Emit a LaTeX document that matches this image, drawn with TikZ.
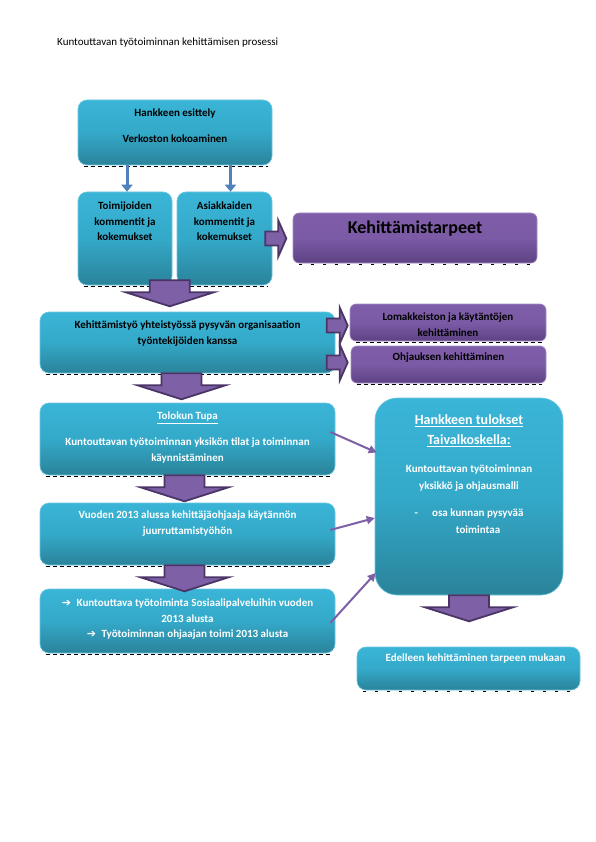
\documentclass[tikz,border=0pt]{standalone}
\usepackage{fontspec}
\setmainfont{Carlito}
\newfontfamily\symfont{DejaVu Sans}
\usetikzlibrary{calc,arrows.meta}

\definecolor{tealtop}{HTML}{3AB5D7}
\definecolor{tealmid}{HTML}{34A9C9}
\definecolor{tealbot}{HTML}{2A839A}
\definecolor{tealedge}{HTML}{6CC6E0}
\definecolor{purptop}{HTML}{7F5DA9}
\definecolor{purpbot}{HTML}{5D4284}
\definecolor{purpedge}{HTML}{4B3567}
\definecolor{purpfill}{HTML}{7E60A6}
\definecolor{bluelink}{HTML}{4F81BD}

\tikzset{
  tealbox/.style={draw=tealedge, line width=0.6pt, rounded corners=9pt,
    top color=tealtop, bottom color=tealbot, middle color=tealmid, inner sep=0pt},
  purpbox/.style={draw=purptop!70!white, line width=0.6pt, rounded corners=6pt,
    top color=purptop, bottom color=purpbot, middle color=purptop!90!purpbot, inner sep=0pt},
  boxtext/.style={font=\fontsize{11}{15.5}\bfseries\selectfont, align=center, inner sep=0pt, anchor=north},
  shadowline/.style={black, line width=1.5pt, dash pattern=on 4pt off 3pt},
  blockarrow/.style={fill=purpfill, draw=purpedge, line width=1.8pt, line join=miter},
  downlink/.style={bluelink, line width=3pt, -{Triangle[length=7pt,width=11pt]}},
  resultlink/.style={purpfill, line width=2pt, -{Triangle[length=8pt,width=8pt]}},
  pics/bigdown/.style={code={
    \draw[blockarrow] (-20,0) -- (20,0) -- (20,12) -- (44,12) -- (0,26) -- (-44,12) -- (-20,12) -- cycle;}},
  pics/bigright/.style={code={
    \draw[blockarrow] (0,-7) -- (13,-7) -- (13,-18) -- (21,0) -- (13,18) -- (13,7) -- (0,7) -- cycle;}}
}

\begin{document}
\begin{tikzpicture}[x=1pt,y=-1pt]
    \useasboundingbox (0,0) rectangle (595,842);
    \fill[white] (0,0) rectangle (595,842);

    \node[anchor=base west, inner sep=0pt, font=\fontsize{11}{13}\selectfont] (title) at (57,46)
        {Kuntouttavan työtoiminnan kehittämisen prosessi};

    % boxes
    \node[tealbox, minimum width=194pt, minimum height=65pt] (A) at (175,132.5) {};
    \node[tealbox, minimum width=94pt, minimum height=93pt] (B1) at (125,238.5) {};
    \node[tealbox, minimum width=95pt, minimum height=93pt] (B2) at (224.5,238.5) {};
    \node[purpbox, minimum width=244pt, minimum height=50pt] (K) at (415,238) {};
    \node[tealbox, minimum width=295pt, minimum height=61pt] (C) at (187.5,342.5) {};
    \node[purpbox, minimum width=196pt, minimum height=37pt] (L1) at (448,322.5) {};
    \node[purpbox, minimum width=195pt, minimum height=37pt] (L2) at (448.5,364.5) {};
    \node[tealbox, minimum width=295pt, minimum height=72pt] (D) at (187.5,439) {};
    \node[tealbox, minimum width=295pt, minimum height=62pt] (E) at (187.5,534) {};
    \node[tealbox, minimum width=295pt, minimum height=64pt] (F) at (187.5,621) {};
    \node[tealbox, rounded corners=22pt, minimum width=188pt, minimum height=197pt] (H) at (469,496.5) {};
    \node[tealbox, minimum width=223pt, minimum height=43pt] (G) at (468.5,668.5) {};

    \foreach \b in {A,B1,B2,C,D,E,F,L1,L2}
        \draw[shadowline] ([xshift=6pt,yshift=-1pt]\b.south west) -- ([xshift=-4pt,yshift=-1pt]\b.south east);
    \foreach \b in {K,G}
        \draw[black, line width=1.2pt, dash pattern=on 3pt off 9pt] ([xshift=6pt,yshift=-1pt]\b.south west) -- ([xshift=-4pt,yshift=-1pt]\b.south east);

    % texts
    \node[boxtext] (At) at ($(A.north)+(0,9)$) {Hankkeen esittely\\[10.5pt] Verkoston kokoaminen};
    \node[boxtext] (B1t) at ($(B1.north)+(0,10)$) {Toimijoiden\\ kommentit ja\\ kokemukset};
    \node[boxtext] (B2t) at ($(B2.north)+(0,10)$) {Asiakkaiden\\ kommentit ja\\ kokemukset};
    \node[boxtext, font=\fontsize{18}{21}\bfseries\selectfont] (Kt) at ($(K.north)+(0,8)$) {Kehittämistarpeet};
    \node[boxtext] (Ct) at ($(C.north)+(0,9)$) {Kehittämistyö yhteistyössä pysyvän organisaation\\ työntekijöiden kanssa};
    \node[boxtext] (L1t) at ($(L1.north)+(0,9)$) {Lomakkeiston ja käytäntöjen\\ kehittäminen};
    \node[boxtext] (L2t) at ($(L2.north)+(0,7)$) {Ohjauksen kehittäminen};
    \node[boxtext, text=white] (Dt) at ($(D.north)+(0,9)$) {\underline{Tolokun Tupa}\\[10.5pt] Kuntouttavan työtoiminnan yksikön tilat ja toiminnan\\ käynnistäminen};
    \node[boxtext, text=white] (Et) at ($(E.north)+(0,8)$) {Vuoden 2013 alussa kehittäjäohjaaja käytännön\\ juurruttamistyöhön};
    \node[boxtext, text=white] (Ft) at ($(F.north)+(0,10)$) {{\symfont ➔}\enspace Kuntouttava työtoiminta Sosiaalipalveluihin vuoden\\ 2013 alusta\\ {\symfont ➔}\enspace Työtoiminnan ohjaajan toimi 2013 alusta};
    \node[boxtext, text=white, font=\fontsize{14}{20}\bfseries\selectfont] (Ht) at ($(H.north)+(0,17)$) {\underline{Hankkeen tulokset}\\ \underline{Taivalkoskella:}};
    \node[boxtext, text=white, font=\fontsize{11}{17}\bfseries\selectfont] (Hb) at ($(H.north)+(0,67)$) {Kuntouttavan työtoiminnan\\ yksikkö ja ohjausmalli\\[10pt] -\hspace{1.3em}osa kunnan pysyvää\\ \hspace*{18pt}toimintaa};
    \node[boxtext, text=white] (Gt) at ($(G.north)+(7,7)$) {Edelleen kehittäminen tarpeen mukaan};

    % connectors
    \draw[downlink] ($(A.south -| B1.north)+(2,0)$) -- ($(B1.north)+(2,0)$);
    \draw[downlink] ($(A.south -| B2.north)+(6,0)$) -- ($(B2.north)+(6,0)$);
    \pic at ($(B2.east)+(-7,0)$) {bigright};
    \pic at ($(L1.west)+(-23,3)$) {bigright};
    \pic at ($(L2.west)+(-24,-2)$) {bigright};
    \pic at ($(B1.south)!0.5!(B2.south)+(-5,-5)$) {bigdown};
    \pic at ($(C.south)+(-6,0)$) {bigdown};
    \pic at ($(D.south)+(-3,0)$) {bigdown};
    \pic at ($(E.south)+(-3,0)$) {bigdown};
    \pic at (H.south) {bigdown};
    \draw[resultlink] ($(D.east)+(-5,-7)$) -- ($(H.west)+(2,-44)$);
    \draw[resultlink] ($(E.east)+(-5,-4)$) -- ($(H.west)+(0,21.5)$);
    \draw[resultlink] ($(F.east)+(-5,2)$) -- ($(H.west)+(1,76.5)$);
\end{tikzpicture}
\end{document}
